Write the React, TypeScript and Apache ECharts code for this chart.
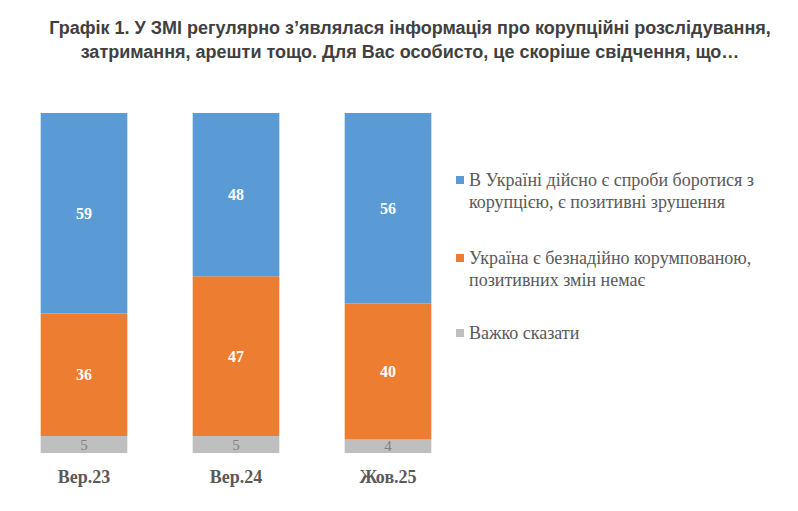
import React, { useEffect, useRef } from 'react';
import * as echarts from 'echarts';

const categories = ['Вер.23', 'Вер.24', 'Жов.25'];
const seriesNames = [
  'В Україні дійсно є спроби боротися з\nкорупцією, є позитивні зрушення',
  'Україна є безнадійно корумпованою,\nпозитивних змін немає',
  'Важко сказати',
];
const positiveValues = [59, 48, 56];
const hopelessValues = [36, 47, 40];
const hardToSayValues = [5, 5, 4];
const colors = ['#5B9BD5', '#ED7D31', '#BFBFBF'];

const serif = '"Liberation Serif", "Times New Roman", serif';

const App: React.FC = () => {
  const chartRef = useRef<HTMLDivElement | null>(null);

  useEffect(() => {
    const chart = echarts.init(chartRef.current!, undefined, { renderer: 'svg' });

    const whiteLabel = {
      show: true,
      position: 'inside' as const,
      color: '#ffffff',
      fontFamily: serif,
      fontWeight: 'bold' as const,
      fontSize: 16,
    };

    // top of each legend block; two-line items get a leading blank line so the
    // marker sits next to the first line
    const legendTops = [147, 225, 322];

    const option: echarts.EChartsOption = {
      animation: false,
      title: {
        text: 'Графік 1. У ЗМІ регулярно з’являлася інформація про корупційні розслідування,\nзатримання, арешти тощо. Для Вас особисто, це скоріше свідчення, що…',
        left: 405,
        top: 11,
        textAlign: 'center',
        textStyle: {
          fontFamily: '"Liberation Sans Narrow", "Liberation Sans", Arial, sans-serif',
          fontWeight: 'bold',
          fontSize: 18,
          lineHeight: 24,
          color: '#404040',
        },
      },
      legend: seriesNames.map((name, i) => ({
        data: [name],
        left: 456,
        top: legendTops[i],
        padding: 0,
        orient: 'vertical' as const,
        icon: 'rect',
        itemWidth: 8,
        itemHeight: 8,
        selectedMode: false,
        formatter: (n: string) => (n.indexOf('\n') >= 0 ? '\n' + n : n),
        textStyle: {
          fontFamily: serif,
          fontSize: 18,
          color: '#595959',
          lineHeight: 22,
        },
      })),
      grid: {
        left: 8,
        top: 113,
        width: 456,
        height: 340,
        containLabel: false,
      },
      xAxis: {
        type: 'category',
        data: categories,
        axisLine: { show: false },
        axisTick: { show: false },
        axisLabel: {
          margin: 15,
          fontFamily: serif,
          fontWeight: 'bold',
          fontSize: 18,
          color: '#595959',
        },
      },
      yAxis: {
        type: 'value',
        min: 0,
        max: 100,
        show: false,
        splitLine: { show: false },
      },
      series: [
        {
          name: seriesNames[2],
          type: 'bar',
          stack: 'total',
          barWidth: '57%',
          data: hardToSayValues,
          itemStyle: { color: colors[2] },
          label: {
            show: true,
            position: 'inside',
            color: '#808080',
            fontFamily: serif,
            fontSize: 15,
          },
        },
        {
          name: seriesNames[1],
          type: 'bar',
          stack: 'total',
          barWidth: '57%',
          data: hopelessValues,
          itemStyle: { color: colors[1] },
          label: whiteLabel,
        },
        {
          name: seriesNames[0],
          type: 'bar',
          stack: 'total',
          barWidth: '57%',
          data: positiveValues,
          itemStyle: { color: colors[0] },
          label: whiteLabel,
        },
      ],
    };

    chart.setOption(option);

    return () => {
      chart.dispose();
    };
  }, []);

  return (
    <div
      ref={chartRef}
      style={{ position: 'fixed', left: 0, top: 0, width: '798px', height: '511px', background: '#fff' }}
    />
  );
};

export default App;
